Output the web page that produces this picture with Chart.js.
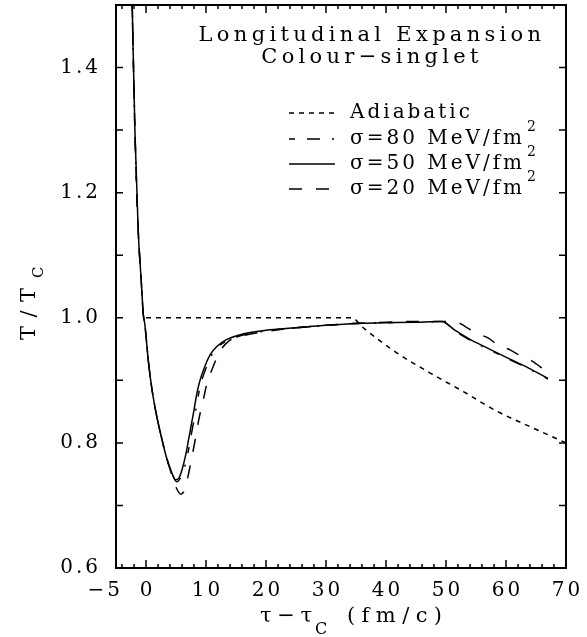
<!DOCTYPE html>
<html><head><meta charset="utf-8">
<script src="https://cdn.jsdelivr.net/npm/chart.js@4/dist/chart.umd.min.js"></script>
<style>html,body{margin:0;padding:0;background:#fff;}#wrap{width:587px;height:637px;}</style>
</head><body><div id="wrap"><canvas id="c" width="587" height="637"></canvas></div>
<script>
// ---- data ----
const titleLines = ['Longitudinal Expansion', 'Colour\u2212singlet'];
const xTickValues = [-5, 0, 10, 20, 30, 40, 50, 60, 70];
const yTickValues = [0.6, 0.8, 1.0, 1.2, 1.4];
const seriesNames = ['Adiabatic', '\u03c3=80 MeV/fm', '\u03c3=50 MeV/fm', '\u03c3=20 MeV/fm'];
const seriesSup = ['', '2', '2', '2'];

const tauAdiabatic = [0, 10, 20, 30, 34.3, 36.2, 41.8, 47.3, 52.9, 58.4, 64.0, 70.0];
const tAdiabatic   = [1.0, 1.0, 1.0, 1.0, 1.0, 0.984, 0.944, 0.912, 0.882, 0.851, 0.826, 0.800];

const tau80 = [-2.3,-1.85,-1.3,-0.8,-0.45,-0.2,0.4,1.0,1.8,2.6,3.4,4.3,5.1,5.8,6.3,6.9,7.6,8.2,8.8,9.3,10.1,11.0,12.1,13.7,16,20,25,30,35,40,45,49.3,51.5,53.7,57.0,60.4,63.7,67.0];
const t80   = [1.5,1.3,1.14,1.06,1.005,0.99,0.93,0.885,0.842,0.808,0.777,0.753,0.738,0.745,0.757,0.780,0.816,0.847,0.880,0.900,0.922,0.941,0.954,0.964,0.972,0.979,0.984,0.988,0.991,0.992,0.993,0.994,0.979,0.966,0.950,0.934,0.919,0.902];

const tau50 = [-2.3,-1.85,-1.3,-0.8,-0.45,-0.2,0.4,1.0,1.8,2.6,3.4,4.2,4.9,5.5,6.0,6.6,7.3,7.9,8.5,9.0,9.8,10.7,11.8,13.4,15.7,20,25,30,35,40,45,49.3,51.5,53.7,57.0,60.4,63.7,67.0];
const t50   = [1.5,1.3,1.14,1.06,1.005,0.99,0.93,0.885,0.842,0.808,0.777,0.755,0.741,0.744,0.757,0.780,0.816,0.847,0.880,0.900,0.922,0.941,0.954,0.965,0.973,0.980,0.984,0.988,0.991,0.992,0.993,0.994,0.980,0.967,0.951,0.935,0.920,0.903];

const tau20 = [-2.3,-1.85,-1.3,-0.8,-0.45,-0.2,0.4,1.0,1.8,2.6,3.4,4.2,5.0,5.8,6.3,6.8,7.6,8.2,8.9,9.3,9.8,10.1,11.2,12.3,13.7,16,20,25,30,35,40,45,49.3,51.5,53.2,55.1,57.0,58.7,60.4,62.3,64.3,66.5];
const t20   = [1.5,1.3,1.14,1.06,1.005,0.99,0.93,0.885,0.842,0.808,0.777,0.752,0.729,0.718,0.722,0.738,0.775,0.805,0.842,0.858,0.880,0.893,0.922,0.946,0.962,0.971,0.978,0.984,0.988,0.991,0.993,0.994,0.994,0.994,0.986,0.975,0.968,0.956,0.950,0.940,0.931,0.916];

// ---- chart ----
const FONT = '"DejaVu Serif", serif';
function pts(xs, ys) { return xs.map((x, i) => ({ x: x, y: ys[i] })); }
const dashes = [[5, 5], [6, 12, 13, 12, 2, 12], [], [13, 14]];
const seriesData = [pts(tauAdiabatic, tAdiabatic), pts(tau80, t80), pts(tau50, t50), pts(tau20, t20)];
const datasets = seriesNames.map((n, i) => ({
  label: n, data: seriesData[i], borderColor: '#000', borderWidth: 1.5,
  borderDash: dashes[i], pointRadius: 0, fill: false, cubicInterpolationMode: 'monotone'
}));

function fmtX(v) { return v < 0 ? '\u2212' + Math.abs(v) : String(v); }

// draw text from x so that its glyphs span about `width` px
function fitText(ctx, text, x, y, width) {
  ctx.letterSpacing = '0px';
  const w0 = ctx.measureText(text).width;
  const n = Math.max(1, [...text].length - 1);
  ctx.letterSpacing = Math.max(0, (width - w0) / n) + 'px';
  ctx.fillText(text, x, y);
}

const decor = {
  id: 'decor',
  beforeDraw(chart) { chart.ctx.letterSpacing = '3px'; },
  afterDraw(chart) {
    const { ctx, chartArea: a } = chart;
    const x = chart.scales.x, y = chart.scales.y;
    ctx.save();
    ctx.strokeStyle = '#000'; ctx.fillStyle = '#000';
    ctx.setLineDash([]);
    ctx.lineWidth = 2;
    ctx.strokeRect(a.left, a.top, a.right - a.left, a.bottom - a.top);
    ctx.lineWidth = 1.5;
    ctx.beginPath();
    for (let v = -4; v < 70; v += 2) {
      const px = x.getPixelForValue(v), len = (v % 10 === 0) ? 8 : 4;
      ctx.moveTo(px, a.bottom); ctx.lineTo(px, a.bottom - len);
      ctx.moveTo(px, a.top); ctx.lineTo(px, a.top + len);
    }
    for (let k = 7; k <= 14; k++) {
      const py = y.getPixelForValue(k / 10);
      ctx.moveTo(a.left, py); ctx.lineTo(a.left + 7, py);
      ctx.moveTo(a.right, py); ctx.lineTo(a.right - 7, py);
    }
    ctx.stroke();

    ctx.letterSpacing = '3px';
    // x tick labels
    ctx.font = '20px ' + FONT; ctx.textBaseline = 'middle';
    xTickValues.forEach((v, i) => {
      const px = x.getPixelForValue(v);
      if (i === 0) { ctx.textAlign = 'right'; ctx.fillText(fmtX(v), px + 7, 591); }
      else { ctx.textAlign = 'center'; ctx.fillText(fmtX(v), px + 1.5, 591); }
    });

    // x axis title
    ctx.textAlign = 'left'; ctx.textBaseline = 'alphabetic';
    ctx.font = '21px ' + FONT; fitText(ctx, '\u03c4\u2212\u03c4', 260, 622, 52);
    ctx.font = '16px ' + FONT; fitText(ctx, 'C', 315, 634, 12);
    ctx.font = '21px ' + FONT; fitText(ctx, '(fm/c)', 347, 622, 95);

    // y axis title
    ctx.save();
    ctx.translate(35, 340); ctx.rotate(-Math.PI / 2);
    ctx.font = '21px ' + FONT; fitText(ctx, 'T/T', 0, 0, 52);
    ctx.font = '15px ' + FONT; fitText(ctx, 'C', 62, 8, 10);
    ctx.restore();

    // title inside plot
    ctx.font = '21px ' + FONT; ctx.textAlign = 'center';
    ctx.letterSpacing = '4.3px';
    ctx.fillText(titleLines[0], 372, 41);
    ctx.fillText(titleLines[1], 372, 63);
    ctx.letterSpacing = '3px';

    // legend
    const rows = [113, 139, 164, 189];
    chart.data.datasets.forEach((ds, i) => {
      const ry = rows[i];
      ctx.setLineDash(ds.borderDash || []);
      ctx.lineWidth = 1.5;
      ctx.beginPath(); ctx.moveTo(289, ry); ctx.lineTo(335, ry); ctx.stroke();
      ctx.setLineDash([]);
      ctx.font = '20px ' + FONT; ctx.textAlign = 'left'; ctx.textBaseline = 'middle';
      ctx.letterSpacing = '3px';
      ctx.fillText(ds.label, 350, ry);
      if (seriesSup[i]) {
        const tw = ctx.measureText(ds.label).width;
        ctx.font = '14px ' + FONT;
        ctx.fillText(seriesSup[i], 350 + tw + 2, ry - 12);
      }
    });
    ctx.restore();
  }
};

new Chart(document.getElementById('c'), {
  type: 'line',
  data: { datasets: datasets },
  options: {
    responsive: false, animation: false, devicePixelRatio: 1,
    layout: { padding: { top: 5, right: 21, left: 0, bottom: 0 } },
    plugins: { legend: { display: false }, tooltip: { enabled: false }, title: { display: false } },
    scales: {
      x: {
        type: 'linear', min: -5, max: 70,
        afterBuildTicks: s => { s.ticks = xTickValues.map(v => ({ value: v })); },
        afterFit: s => { s.height = 69; s.paddingLeft = 0; s.paddingRight = 0; },
        grid: { display: false, drawTicks: false }, border: { display: false },
        ticks: { display: false }
      },
      y: {
        type: 'linear', min: 0.6, max: 1.5,
        afterBuildTicks: s => { s.ticks = yTickValues.map(v => ({ value: v })); },
        afterFit: s => { s.width = 116; s.paddingTop = 0; s.paddingBottom = 0; },
        grid: { display: false, drawTicks: false }, border: { display: false },
        ticks: { color: '#000', font: { family: FONT, size: 20 }, padding: 15, callback: v => Number(v).toFixed(1) }
      }
    }
  },
  plugins: [decor]
});
</script>
</body></html>
